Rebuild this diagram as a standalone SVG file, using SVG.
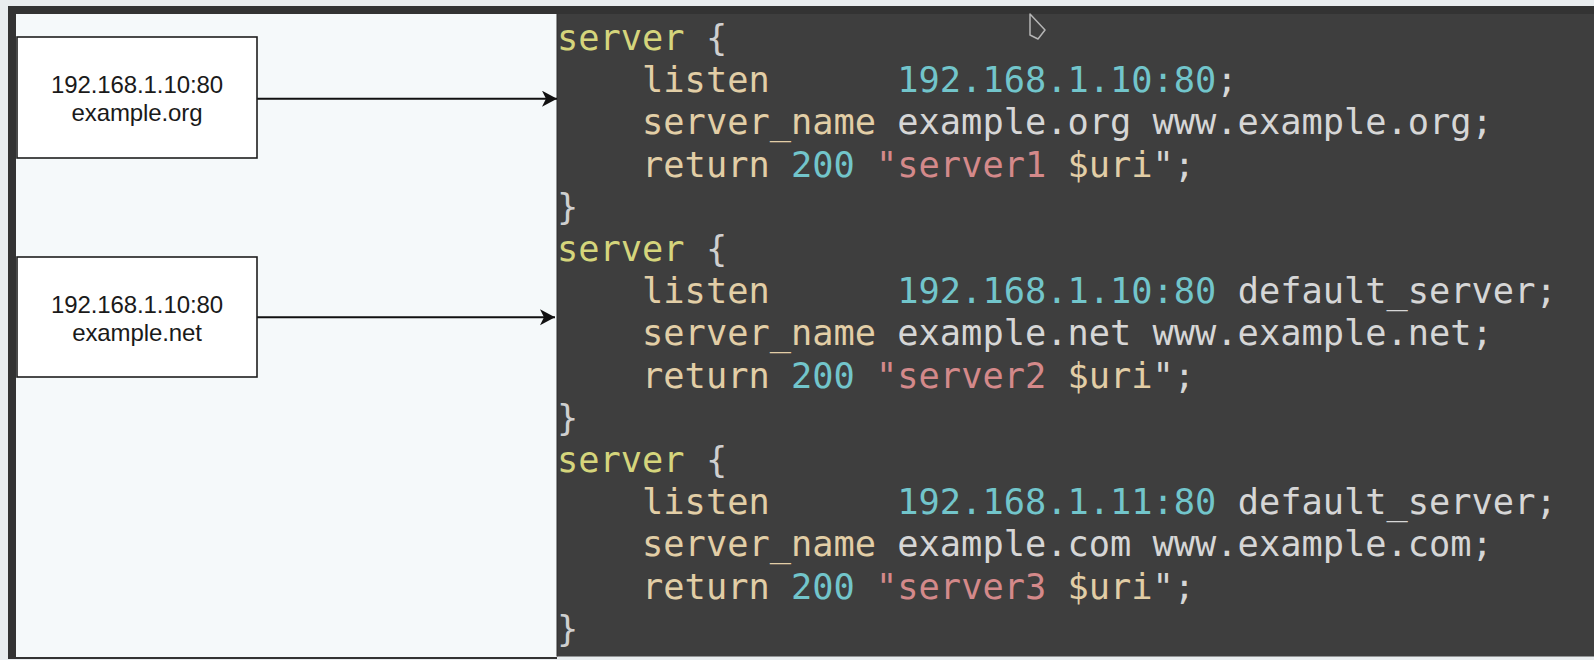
<svg xmlns="http://www.w3.org/2000/svg" width="1594" height="660" viewBox="0 0 1594 660">
  <defs>
    <style>
      .node rect { fill: #ffffff; stroke: #1e1e1e; stroke-width: 1.6; }
      .node text { font-family: "Liberation Sans", Arial, sans-serif; font-size: 24px; fill: #1a1a1a; text-anchor: middle; letter-spacing: -0.1px; }
      .edge { stroke: #111111; stroke-width: 2; fill: none; }
      .code { font-family: "DejaVu Sans Mono", "Liberation Mono", monospace; font-size: 35.35px; white-space: pre; }
      .kw { fill: #d5d57c; }
      .dir { fill: #e2cea6; }
      .num { fill: #72c5cb; }
      .str { fill: #d4898a; }
      .plain { fill: #d6d6d6; }
      .brace { fill: #cfcfcf; }
    </style>
    <marker id="arrow" markerUnits="userSpaceOnUse" markerWidth="16" markerHeight="18" refX="15" refY="8" orient="auto">
      <path d="M0,0 L15,8 L0,16 L4,8 Z" fill="#111111"/>
    </marker>
  </defs>

  <!-- screen background / frame -->
  <rect x="0" y="0" width="1594" height="660" fill="#e9edef"/>
  <rect x="8" y="6" width="1586" height="8" fill="#333333"/>
  <rect x="8" y="6" width="549" height="653" fill="#333333"/>
  <rect x="16" y="14" width="541" height="643" fill="#f5f9fa"/>
  <rect x="557" y="14" width="1037" height="642.5" fill="#3e3e3e"/>
  <line x1="557" y1="14" x2="557" y2="656.5" stroke="#2c2c2c" stroke-width="1"/>

  <!-- mouse cursor -->
  <path d="M1030,14 L1030,35 L1038,39 L1045,30 Z" fill="#3e3e3e" stroke="#b5b5b5" stroke-width="1.5" stroke-linejoin="round"/>

  <!-- code listing -->
  <g id="code" class="code">
    <text x="557" y="50" xml:space="preserve"><tspan class="kw">server</tspan><tspan class="brace"> {</tspan></text>
    <text x="557" y="92.2" xml:space="preserve"><tspan class="dir">    listen      </tspan><tspan class="num">192.168.1.10:80</tspan><tspan class="plain">;</tspan></text>
    <text x="557" y="134.4" xml:space="preserve"><tspan class="dir">    server_name </tspan><tspan class="plain">example.org www.example.org;</tspan></text>
    <text x="557" y="176.6" xml:space="preserve"><tspan class="dir">    return </tspan><tspan class="num">200</tspan><tspan class="str"> "server1 </tspan><tspan class="dir">$uri</tspan><tspan class="plain">";</tspan></text>
    <text x="557" y="218.8" xml:space="preserve"><tspan class="brace">}</tspan></text>

    <text x="557" y="261" xml:space="preserve"><tspan class="kw">server</tspan><tspan class="brace"> {</tspan></text>
    <text x="557" y="303.2" xml:space="preserve"><tspan class="dir">    listen      </tspan><tspan class="num">192.168.1.10:80</tspan><tspan class="plain"> default_server;</tspan></text>
    <text x="557" y="345.4" xml:space="preserve"><tspan class="dir">    server_name </tspan><tspan class="plain">example.net www.example.net;</tspan></text>
    <text x="557" y="387.6" xml:space="preserve"><tspan class="dir">    return </tspan><tspan class="num">200</tspan><tspan class="str"> "server2 </tspan><tspan class="dir">$uri</tspan><tspan class="plain">";</tspan></text>
    <text x="557" y="429.8" xml:space="preserve"><tspan class="brace">}</tspan></text>

    <text x="557" y="472" xml:space="preserve"><tspan class="kw">server</tspan><tspan class="brace"> {</tspan></text>
    <text x="557" y="514.2" xml:space="preserve"><tspan class="dir">    listen      </tspan><tspan class="num">192.168.1.11:80</tspan><tspan class="plain"> default_server;</tspan></text>
    <text x="557" y="556.4" xml:space="preserve"><tspan class="dir">    server_name </tspan><tspan class="plain">example.com www.example.com;</tspan></text>
    <text x="557" y="598.6" xml:space="preserve"><tspan class="dir">    return </tspan><tspan class="num">200</tspan><tspan class="str"> "server3 </tspan><tspan class="dir">$uri</tspan><tspan class="plain">";</tspan></text>
    <text x="557" y="640.8" xml:space="preserve"><tspan class="brace">}</tspan></text>
  </g>

  <!-- connectors -->
  <g id="connectors">
    <line class="edge" x1="257" y1="98.7" x2="557" y2="98.7" marker-end="url(#arrow)"/>
    <line class="edge" x1="257" y1="317.3" x2="555" y2="317.3" marker-end="url(#arrow)"/>
  </g>

  <!-- nodes -->
  <g id="node-org" class="node">
    <rect x="17" y="37" width="240" height="121"/>
    <text x="137" y="92.7">192.168.1.10:80</text>
    <text x="137" y="120.7">example.org</text>
  </g>
  <g id="node-net" class="node">
    <rect x="17" y="257" width="240" height="120"/>
    <text x="137" y="312.7">192.168.1.10:80</text>
    <text x="137" y="340.7">example.net</text>
  </g>
</svg>
